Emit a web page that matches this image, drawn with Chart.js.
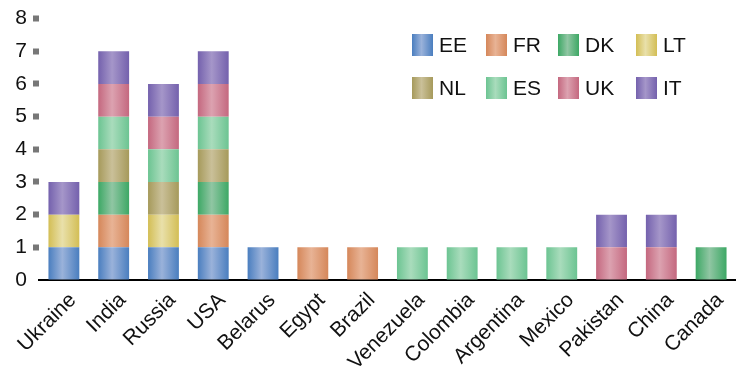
<!DOCTYPE html>
<html lang="en">
<head>
  <meta charset="UTF-8">
  <title>Countries by series</title>
  <script src="https://cdn.jsdelivr.net/npm/chart.js"></script>
  <style>
    html, body {
      margin: 0;
      padding: 0;
      background: white;
    }
    #wrap {
      width: 736px;
      height: 369px;
    }
  </style>
</head>
<body>
<div id="wrap">
  <canvas id="chart" width="736" height="369"></canvas>
</div>

<script>
  const categories = ["Ukraine", "India", "Russia", "USA", "Belarus", "Egypt", "Brazil",
    "Venezuela", "Colombia", "Argentina", "Mexico", "Pakistan", "China", "Canada"];

  const seriesNames = ["EE", "FR", "DK", "LT", "NL", "ES", "UK", "IT"];

  const EE = [1, 1, 1, 1, 1, 0, 0, 0, 0, 0, 0, 0, 0, 0];
  const FR = [0, 1, 0, 1, 0, 1, 1, 0, 0, 0, 0, 0, 0, 0];
  const DK = [0, 1, 0, 1, 0, 0, 0, 0, 0, 0, 0, 0, 0, 1];
  const LT = [1, 0, 1, 0, 0, 0, 0, 0, 0, 0, 0, 0, 0, 0];
  const NL = [0, 1, 1, 1, 0, 0, 0, 0, 0, 0, 0, 0, 0, 0];
  const ES = [0, 1, 1, 1, 0, 0, 0, 1, 1, 1, 1, 0, 0, 0];
  const UK = [0, 1, 1, 1, 0, 0, 0, 0, 0, 0, 0, 1, 1, 0];
  const IT = [1, 1, 1, 1, 0, 0, 0, 0, 0, 0, 0, 1, 1, 0];
  const seriesValues = [EE, FR, DK, LT, NL, ES, UK, IT];

  const yTicks = [0, 1, 2, 3, 4, 5, 6, 7, 8];

  // edge colour, centre (light) colour
  const edgeColors = ["#4a7ebf", "#d5875a", "#3da865", "#d3be55", "#a69a5b", "#6cc492", "#c4687f", "#7461ad"];
  const midColors  = ["#9ab2da", "#e8b395", "#90c6a3", "#e9e0aa", "#cac099", "#a9dcbc", "#dca2b0", "#a596c9"];

  const barPct = 0.62;
  const fontFam = "'Liberation Sans', Arial, sans-serif";

  function barGradient(i) {
    return function(ctx) {
      const chart = ctx.chart;
      const xs = chart.scales.x;
      if (!xs || !chart.chartArea) return edgeColors[i];
      const cx = xs.getPixelForValue(ctx.dataIndex);
      const w = xs.width / categories.length * barPct;
      const g = chart.ctx.createLinearGradient(cx - w / 2, 0, cx + w / 2, 0);
      g.addColorStop(0, edgeColors[i]);
      g.addColorStop(0.45, midColors[i]);
      g.addColorStop(1, edgeColors[i]);
      return g;
    };
  }

  // legend drawn inside the plot, 2 rows of 4
  const insideLegend = {
    id: "insideLegend",
    afterDraw(chart) {
      const c = chart.ctx;
      const colX = [412, 486, 558, 636];
      const rowY = [45, 88];
      c.save();
      c.font = "21px " + fontFam;
      c.textBaseline = "middle";
      seriesNames.forEach((name, i) => {
        const x = colX[i % 4];
        const y = rowY[Math.floor(i / 4)];
        const g = c.createLinearGradient(x, 0, x + 21, 0);
        g.addColorStop(0, edgeColors[i]);
        g.addColorStop(0.45, midColors[i]);
        g.addColorStop(1, edgeColors[i]);
        c.fillStyle = g;
        c.fillRect(x, y - 11, 21, 22);
        c.fillStyle = "#111";
        c.fillText(name, x + 27, y + 1);
      });
      c.restore();
    }
  };

  new Chart(document.getElementById("chart"), {
    type: "bar",
    data: {
      labels: categories,
      datasets: seriesNames.map((name, i) => ({
        label: name,
        data: seriesValues[i],
        backgroundColor: barGradient(i),
        borderWidth: 0,
        barPercentage: barPct,
        categoryPercentage: 1
      }))
    },
    options: {
      responsive: false,
      animation: false,
      layout: { padding: { left: 0, right: 0, top: 4, bottom: 0 } },
      plugins: {
        legend: { display: false },
        tooltip: { enabled: false }
      },
      scales: {
        x: {
          stacked: true,
          grid: { display: false },
          border: { display: true, color: "#000", width: 2 },
          ticks: {
            color: "#111",
            font: { family: fontFam, size: 21 },
            maxRotation: 45,
            minRotation: 45,
            labelOffset: 9,
            padding: 0
          },
          afterFit: s => {
            s.height = 89;
            s.paddingLeft = 0;
            s.paddingRight = 0;
          }
        },
        y: {
          stacked: true,
          min: 0,
          max: 8,
          afterBuildTicks: axis => { axis.ticks = yTicks.map(v => ({ value: v })); },
          afterFit: s => { s.width = 39; },
          border: { display: false },
          grid: {
            drawOnChartArea: false,
            drawTicks: true,
            tickLength: 6,
            tickWidth: 6,
            tickColor: ctx => ctx.tick && ctx.tick.value === 0 ? "rgba(0,0,0,0)" : "#777"
          },
          ticks: {
            color: "#111",
            font: { family: fontFam, size: 21 },
            padding: 6
          }
        }
      }
    },
    plugins: [insideLegend]
  });
</script>
</body>
</html>
